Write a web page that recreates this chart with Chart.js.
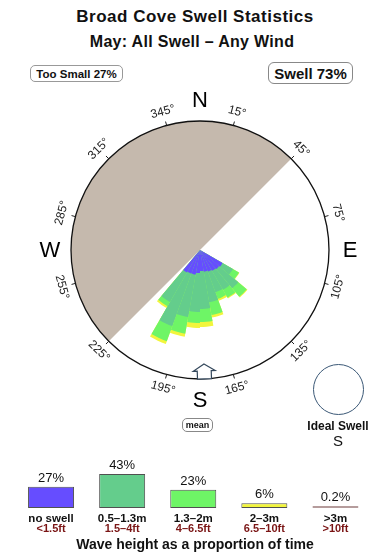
<!DOCTYPE html>
<html>
<head>
<meta charset="utf-8">
<script src="https://cdn.jsdelivr.net/npm/chart.js@4.4.1/dist/chart.umd.min.js"></script>
<style>
  body { margin: 0; width: 390px; height: 560px; overflow: hidden; background: #fff;
         font-family: "Liberation Sans", Arial, sans-serif; color: #111; position: relative; }
  .abs { position: absolute; }
  .box { position: absolute; box-sizing: border-box; display: flex; align-items: center;
         justify-content: center; font-weight: bold; background: #fff; }
  #title { left: 0; width: 390px; top: 8px; text-align: center; font-weight: bold;
           font-size: 17px; line-height: 17px; letter-spacing: 0.5px; }
  #subtitle { left: 0; width: 384px; top: 34px; text-align: center; font-weight: bold;
              font-size: 16px; line-height: 16px; letter-spacing: 0.3px; }
  #tooSmall { left: 30px; top: 65px; width: 93px; height: 17px; border: 1px solid #999;
              border-radius: 5px; font-size: 11.5px; }
  #swell { left: 268px; top: 62px; width: 85px; height: 22px; border: 1px solid #888;
           border-radius: 6px; font-size: 15px; }
  #mean { left: 182px; top: 418px; width: 31px; height: 14px; border: 1px solid #888;
          border-radius: 5px; font-size: 9px; z-index: 2; }
  #idealRing { left: 313px; top: 364px; width: 51px; height: 51px; box-sizing: border-box;
               border: 1.3px solid #3b5876; border-radius: 50%; }
  #idealText { left: 288px; width: 100px; top: 420px; text-align: center; font-weight: bold;
               font-size: 12px; line-height: 12px; z-index: 2; }
  #idealDir { left: 288px; width: 100px; top: 433px; text-align: center;
              font-size: 15px; line-height: 15px; z-index: 2; }
  #rose { left: 10px; top: 60px; }
  #legend { left: 0; top: 420px; }
</style>
</head>
<body>
<div id="title" class="abs">Broad Cove Swell Statistics</div>
<div id="subtitle" class="abs">May: All Swell – Any Wind</div>
<div id="tooSmall" class="box">Too Small 27%</div>
<div id="swell" class="box">Swell 73%</div>
<canvas id="rose" class="abs" width="380" height="380"></canvas>
<canvas id="legend" class="abs" width="390" height="140"></canvas>
<div id="mean" class="box">mean</div>
<div id="idealRing" class="abs"></div>
<div id="idealText" class="abs">Ideal Swell</div>
<div id="idealDir" class="abs">S</div>
<script>
// Direction bins (centre of each 10° sector) that carry swell
const dirBins = [125, 135, 145, 155, 165, 175, 185, 195, 205, 215];
// Share of time per direction bin, one array per wave height class (radial units)
const noSwellDir = [5.2, 5.0, 4.8, 4.6, 4.4, 4.2, 4.6, 5.0, 5.0, 5.2];
const smallDir   = [2.4, 5.0, 4.4, 4.4, 6.2, 7.6, 7.8, 8.6, 11.2, 6.8];
const mediumDir  = [1.4, 2.2, 1.8, 1.4, 2.6, 2.6, 2.2, 3.4, 3.2, 1.0];
const largeDir   = [0.1, 0.2, 0.2, 0.4, 0.5, 1.0, 1.0, 0.6, 0.6, 0.4];
const roseColors = ['#664dff', '#64cd8c', '#6ef566', '#f2f53c'];
const roseMax = 25.8;

// Sheltered ("too small") sector: from 225° clockwise through north to 45°
const shelterStart = 225;
const shelterSpan = 180;

const degreeTicks = [15, 45, 75, 105, 135, 165, 195, 225, 255, 285, 315, 345];
const cardinalLabels = ['N', 'E', 'S', 'W'];
const meanDir = 178;

// Wave height legend
const heightMetres = ['no swell', '0.5–1.3m', '1.3–2m', '2–3m', '>3m'];
const heightFeet = ['<1.5ft', '1.5–4ft', '4–6.5ft', '6.5–10ft', '>10ft'];
const heightPct = [27, 43, 23, 6, 0.2];
const heightColors = ['#664dff', '#64cd8c', '#6ef566', '#f2f53c', '#c2a9a9'];
const heightBorders = ['#505050', '#505050', '#505050', '#505050', '#b59c9c'];

const FONT = '"Liberation Sans", Arial, sans-serif';

// 36 sectors of 10°, starting at north
const binLabels = [];
for (let k = 0; k < 36; k++) binLabels.push(k * 10 + '°');

const toSlots = arr => binLabels.map((_, k) => {
  const j = dirBins.indexOf(k * 10 + 5);
  return j < 0 ? 0 : arr[j];
});

// stacked = cumulative radii, smallest first so it is drawn on top
let running = dirBins.map(() => 0);
const cumulative = [noSwellDir, smallDir, mediumDir, largeDir].map(layer =>
  (running = running.map((v, i) => v + layer[i])));

const roseDatasets = cumulative.map((vals, i) => ({
  data: toSlots(vals),
  backgroundColor: roseColors[i],
  borderWidth: 0
}));
roseDatasets.push({
  data: [0, roseMax],
  angle: ctx => ctx.dataIndex === 0 ? shelterStart : shelterSpan,
  backgroundColor: '#c5b9ad',
  borderWidth: 0
});

const compassDeco = {
  id: 'compassDeco',
  afterDraw(chart) {
    const s = chart.scales.r;
    const ctx = chart.ctx;
    const cx = s.xCenter, cy = s.yCenter, R = s.drawingArea;
    const pos = (deg, r) => {
      const a = (deg - 90) * Math.PI / 180;
      return [cx + r * Math.cos(a), cy + r * Math.sin(a)];
    };
    ctx.save();
    // small ticks outside the ring
    ctx.strokeStyle = '#222';
    ctx.lineWidth = 1;
    degreeTicks.forEach(d => {
      const [x1, y1] = pos(d, R);
      const [x2, y2] = pos(d, R + 4);
      ctx.beginPath(); ctx.moveTo(x1, y1); ctx.lineTo(x2, y2); ctx.stroke();
    });
    // rotated degree labels
    ctx.fillStyle = '#222';
    ctx.textAlign = 'center';
    ctx.textBaseline = 'middle';
    ctx.font = '12px ' + FONT;
    degreeTicks.forEach(d => {
      const [x, y] = pos(d, R + 14);
      const rot = (d > 90 && d < 270 ? d - 180 : d) * Math.PI / 180;
      ctx.save();
      ctx.translate(x, y);
      ctx.rotate(rot);
      ctx.fillText(d + '°', 0, 0);
      ctx.restore();
    });
    // N E S W
    ctx.fillStyle = '#000';
    ctx.font = '22px ' + FONT;
    cardinalLabels.forEach((c, i) => {
      const [x, y] = pos(i * 90, R + 21);
      ctx.fillText(c, x, y + 1);
    });
    // mean direction arrow sitting on the ring
    const [ax, ay] = pos(meanDir, R);
    ctx.translate(ax, ay);
    ctx.rotate((meanDir - 180) * Math.PI / 180);
    ctx.beginPath();
    ctx.moveTo(0, -15); ctx.lineTo(11, -8); ctx.lineTo(7, -8); ctx.lineTo(7, 0);
    ctx.lineTo(-7, 0); ctx.lineTo(-7, -8); ctx.lineTo(-11, -8); ctx.closePath();
    ctx.fillStyle = '#fff';
    ctx.fill();
    ctx.strokeStyle = '#33475b';
    ctx.lineWidth = 1.2;
    ctx.stroke();
    ctx.restore();
  }
};

new Chart(document.getElementById('rose'), {
  type: 'polarArea',
  data: { labels: binLabels, datasets: roseDatasets },
  options: {
    responsive: false,
    animation: false,
    layout: { padding: 61 },
    plugins: { legend: { display: false }, tooltip: { enabled: false } },
    scales: {
      r: {
        min: 0,
        max: roseMax,
        startAngle: 0,
        ticks: { display: false, stepSize: roseMax },
        grid: { color: '#111', lineWidth: 1.3, z: 1 },
        angleLines: { display: false },
        pointLabels: { display: false }
      }
    }
  },
  plugins: [compassDeco]
});

const legendText = {
  id: 'legendText',
  afterDatasetsDraw(chart) {
    const ctx = chart.ctx;
    const base = chart.chartArea.bottom;
    ctx.save();
    ctx.textAlign = 'center';
    ctx.textBaseline = 'alphabetic';
    chart.getDatasetMeta(0).data.forEach((bar, i) => {
      ctx.fillStyle = '#111';
      ctx.font = '13px ' + FONT;
      ctx.fillText(heightPct[i] + '%', bar.x, bar.y - 5);
      ctx.font = 'bold 11.5px ' + FONT;
      ctx.fillText(heightMetres[i], bar.x, base + 14);
      ctx.fillStyle = '#7a1414';
      ctx.font = 'bold 11px ' + FONT;
      ctx.fillText(heightFeet[i], bar.x, base + 24);
    });
    ctx.fillStyle = '#111';
    ctx.font = 'bold 14px ' + FONT;
    ctx.fillText('Wave height as a proportion of time', chart.width / 2, base + 40.5);
    ctx.restore();
  }
};

new Chart(document.getElementById('legend'), {
  type: 'bar',
  data: {
    labels: heightMetres,
    datasets: [{
      data: heightPct,
      backgroundColor: heightColors,
      borderColor: heightBorders,
      borderWidth: 1,
      borderSkipped: false,
      barPercentage: 0.647,
      categoryPercentage: 1,
      minBarLength: 2
    }]
  },
  options: {
    responsive: false,
    animation: false,
    layout: { padding: { left: 15.5, right: 19, top: 9, bottom: 52 } },
    plugins: { legend: { display: false }, tooltip: { enabled: false } },
    scales: {
      x: { display: false },
      y: { display: false, min: 0, max: 100 }
    }
  },
  plugins: [legendText]
});
</script>
</body>
</html>
